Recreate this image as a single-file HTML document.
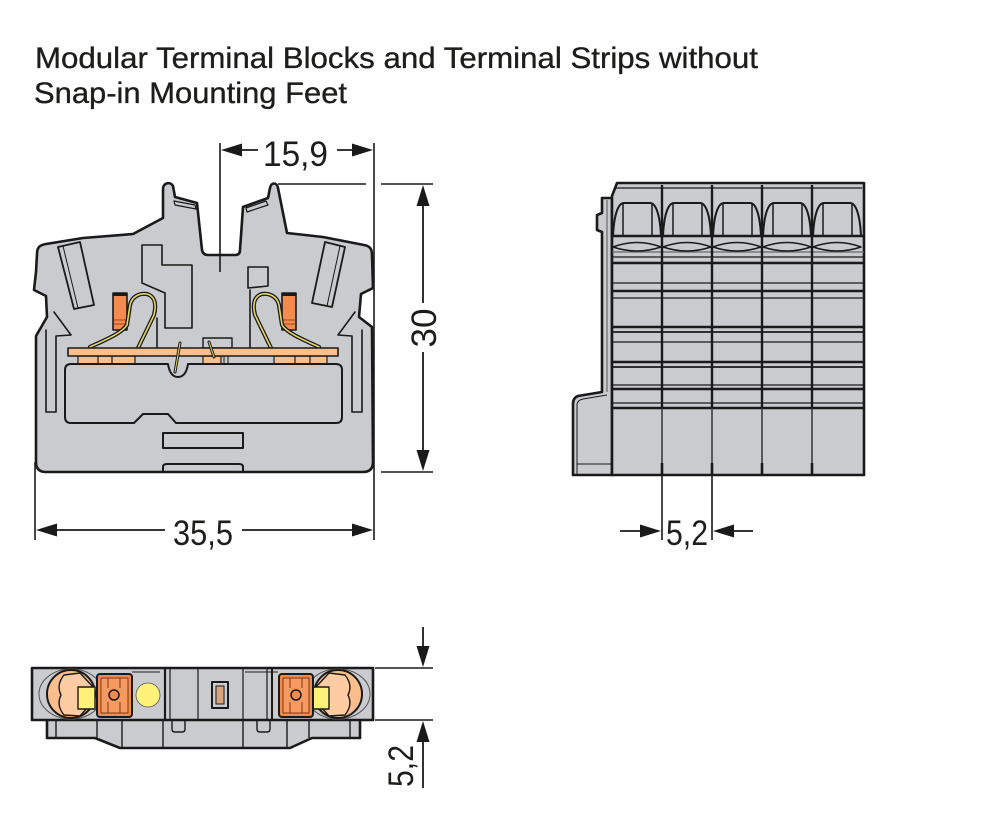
<!DOCTYPE html>
<html>
<head>
<meta charset="utf-8">
<style>
  html,body{margin:0;padding:0;background:#fff;}
  svg{display:block;}
  .t{font-family:"Liberation Sans Narrow","Liberation Sans",sans-serif;fill:#1d1d1b;}
  .tt{stroke:#1d1d1b;stroke-width:0.35;}
</style>
</head>
<body>
<svg width="984" height="818" viewBox="0 0 984 818" xmlns="http://www.w3.org/2000/svg">
  <rect width="984" height="818" fill="#fff"/>

  <!-- Title -->
  <text class="t tt" x="35" y="68" font-size="30" textLength="723" lengthAdjust="spacingAndGlyphs">Modular Terminal Blocks and Terminal Strips without</text>
  <text class="t tt" x="34" y="103" font-size="30" textLength="313" lengthAdjust="spacingAndGlyphs">Snap-in Mounting Feet</text>

  <!-- ================= FRONT VIEW ================= -->
  <g stroke="#1a1a1a" stroke-linejoin="round" stroke-linecap="round">
    <path fill="#CACBCE" stroke-width="2.6" d="M37,254 C37,247 40,245 46,244 L83,238 L133,234 L163,218 L163,189 C163,183 170,181 173,186 L175,197 L197,203 L202,250 Q203,255 208,255 L235,255 Q240,255 240,250 L243,207 L268,198 L270,188 C271,182 277,182 278,188 L287,233 L323,237 L364,245 C370,246 372,249 372,255 L373,288 L361,294 L359,317 L372,327 L373,462 Q373,472 363,472 L46,472 Q36,472 36,462 L36,336 L47,317 L46,296 L34,290 L36,272 Z"/>
    <path fill="none" stroke-width="1.2" d="M174,201 L195,205 L196,209 L175,205 Z"/>
    <path fill="none" stroke-width="1.2" d="M246,208 L266,201 L268,205 L247,212 Z"/>
    <path fill="none" stroke-width="1.8" d="M58,247 L80,242 L94,305 L74,309 Z"/>
    <path fill="none" stroke-width="1" d="M63,246 L78,308"/>
    <path fill="none" stroke-width="1.8" d="M325,242 L345,247 L332,307 L312,303 Z"/>
    <path fill="none" stroke-width="1" d="M340,246 L327,306"/>
    <path fill="none" stroke-width="1.6" d="M142,245 L162,245 L162,265 L192,265 L192,328 L165,328 L165,293 L142,283 Z"/>
    <path fill="none" stroke-width="1.6" d="M248,267 L268,267 L268,286 L248,288 Z"/>
    <path fill="none" stroke-width="1.6" d="M54,312 L71,335 L56,336 L56,412 L46,412 L46,330"/>
    <path fill="none" stroke-width="1.6" d="M355,312 L338,335 L352,336 L352,412 L362,412 L362,330"/>
    <line x1="157" y1="318" x2="157" y2="348" stroke-width="1.6"/>
    <line x1="250" y1="290" x2="250" y2="348" stroke-width="1.6"/>
    <rect x="113" y="293" width="14" height="37" fill="#F58A4F" stroke-width="1.6"/>
    <rect x="113" y="293" width="14" height="3" fill="#1a1a1a" stroke-width="0"/>
    <line x1="114" y1="320" x2="126" y2="320" stroke="#9a4a20" stroke-width="1"/>
    <line x1="114" y1="324" x2="126" y2="324" stroke="#9a4a20" stroke-width="1"/>
    <rect x="282" y="293" width="14" height="37" fill="#F58A4F" stroke-width="1.6"/>
    <rect x="282" y="293" width="14" height="3" fill="#1a1a1a" stroke-width="0"/>
    <line x1="283" y1="320" x2="295" y2="320" stroke="#9a4a20" stroke-width="1"/>
    <line x1="283" y1="324" x2="295" y2="324" stroke="#9a4a20" stroke-width="1"/>
    <path fill="none" stroke-width="4.2" d="M90,347 C105,340 122,333 127,325 L130,305 C132,296 140,293 147,294 C154,296 157,303 154,315 L138,348"/>
    <path fill="none" stroke="#E6D66A" stroke-width="1.6" d="M90,347 C105,340 122,333 127,325 L130,305 C132,296 140,293 147,294 C154,296 157,303 154,315 L138,348"/>
    <path fill="none" stroke-width="4.2" d="M319,347 C304,340 287,333 282,325 L279,305 C277,296 269,293 262,294 C255,296 252,303 255,315 L271,348"/>
    <path fill="none" stroke="#E6D66A" stroke-width="1.6" d="M319,347 C304,340 287,333 282,325 L279,305 C277,296 269,293 262,294 C255,296 252,303 255,315 L271,348"/>
    <rect x="203" y="338" width="29" height="10" fill="none" stroke-width="1.4"/>
    <rect x="78" y="356" width="57" height="8" fill="#FCBF8B" stroke-width="1.2"/>
    <rect x="98" y="356" width="14" height="8" fill="#FCBF8B" stroke-width="1.2"/>
    <rect x="203" y="356" width="18" height="8" fill="#FCBF8B" stroke-width="1.2"/>
    <line x1="224" y1="356" x2="224" y2="364" stroke-width="1"/>
    <line x1="228" y1="356" x2="228" y2="364" stroke-width="1"/>
    <rect x="274" y="356" width="53" height="8" fill="#FCBF8B" stroke-width="1.2"/>
    <rect x="295" y="356" width="15" height="8" fill="#FCBF8B" stroke-width="1.2"/>
    <rect x="68" y="348" width="270" height="8" fill="#FCBF8B" stroke-width="1.6"/>
    <path fill="#CACBCE" stroke-width="2" d="M71,364 L168,364 Q170,377 178,377 Q186,377 188,364 L336,364 Q342,364 342,370 L342,417 Q342,423 336,423 L176,423 L168,414 L143,414 L134,423 L71,423 Q65,423 65,417 L65,370 Q65,364 71,364 Z"/>
    <path fill="none" stroke-width="3" d="M180,343 L175,372"/>
    <path fill="none" stroke="#E6D66A" stroke-width="1" d="M180,343 L175,372"/>
    <path fill="none" stroke-width="3" d="M209,342 L214,357"/>
    <path fill="none" stroke="#E6D66A" stroke-width="1" d="M209,342 L214,357"/>
    <rect x="163" y="433" width="80" height="15" fill="#CACBCE" stroke-width="2"/>
    <path fill="none" stroke-width="2" d="M163,472 L163,467 Q163,464 167,464 L239,464 Q243,464 243,467 L243,472"/>
  </g>

  <!-- front view dimensions -->
  <g stroke="#1a1a1a" fill="none">
    <line x1="220" y1="143" x2="220" y2="272" stroke-width="1.6"/>
    <line x1="374" y1="143" x2="374" y2="540" stroke-width="1.6"/>
    <line x1="35" y1="462" x2="35" y2="540" stroke-width="1.6"/>
    <line x1="240" y1="150" x2="258" y2="150" stroke-width="1.8"/>
    <line x1="337" y1="150" x2="355" y2="150" stroke-width="1.8"/>
    <line x1="278" y1="184" x2="366" y2="184" stroke-width="1.6"/>
    <line x1="381" y1="184" x2="433" y2="184" stroke-width="1.6"/>
    <line x1="381" y1="472" x2="433" y2="472" stroke-width="1.6"/>
    <line x1="423" y1="204" x2="423" y2="303" stroke-width="1.8"/>
    <line x1="423" y1="352" x2="423" y2="452" stroke-width="1.8"/>
    <line x1="55" y1="530" x2="165" y2="530" stroke-width="1.8"/>
    <line x1="242" y1="530" x2="354" y2="530" stroke-width="1.8"/>
  </g>
  <g fill="#1a1a1a">
    <polygon points="221,150 242,143.5 242,156.5"/>
    <polygon points="373,150 352,143.5 352,156.5"/>
    <polygon points="423,185 416.5,206 429.5,206"/>
    <polygon points="423,471 416.5,450 429.5,450"/>
    <polygon points="36,530 57,523.5 57,536.5"/>
    <polygon points="373,530 352,523.5 352,536.5"/>
  </g>
  <text class="t" x="263" y="166" font-size="35" textLength="65" lengthAdjust="spacingAndGlyphs">15,9</text>
  <text class="t" x="173" y="545" font-size="35" textLength="60" lengthAdjust="spacingAndGlyphs">35,5</text>
  <text class="t" font-size="35" text-anchor="middle" transform="translate(436,328) rotate(-90)">30</text>

  <!-- ================= SIDE VIEW ================= -->
  <g stroke="#1a1a1a" stroke-linejoin="round">
    <path fill="#CACBCE" stroke-width="2.6" d="M612,198 L602,198 L602,213 L597,215 L597,230 L602,232 L602,392 L578,396 Q573,398 573,404 L573,475 L612,475 Z"/>
    <line x1="607" y1="200" x2="607" y2="392" stroke="#555" stroke-width="1"/>
    <path fill="none" stroke-width="1" d="M577,475 L577,404 Q578,400 583,399 L607,395"/>
    <line x1="577" y1="464" x2="612" y2="464" stroke-width="1"/>
    <path fill="#CACBCE" stroke-width="2.6" d="M612,475 L612,196 L617,183 L864,183 L864,475 Z"/>
    <line x1="616" y1="188" x2="862" y2="188" stroke-width="1.2"/>
    <g stroke-width="1.3">
      <line x1="612" y1="252" x2="864" y2="252" stroke="#666"/>
      <line x1="612" y1="257" x2="864" y2="257"/>
      <line x1="612" y1="283" x2="864" y2="283"/>
      <line x1="612" y1="298" x2="864" y2="298"/>
      <line x1="612" y1="342" x2="864" y2="342"/>
      <line x1="612" y1="385" x2="864" y2="385"/>
      <line x1="612" y1="403" x2="864" y2="403"/>
    </g>
    <g stroke-width="2.4">
      <line x1="612" y1="236" x2="864" y2="236"/>
      <line x1="612" y1="263" x2="864" y2="263"/>
      <line x1="612" y1="291" x2="864" y2="291"/>
      <line x1="612" y1="327" x2="864" y2="327"/>
      <line x1="612" y1="332" x2="864" y2="332" stroke-width="1.8"/>
      <line x1="612" y1="362" x2="864" y2="362"/>
      <line x1="612" y1="367" x2="864" y2="367" stroke-width="1.8"/>
      <line x1="612" y1="389" x2="864" y2="389"/>
      <line x1="612" y1="408" x2="864" y2="408"/>
    </g>
    <g fill="none" stroke-width="2">
      <path d="M613,236 C614,215 618,203 624,203 L650,203 C656,203 660,215 661,236"/>
      <path d="M663,236 C664,215 668,203 674,203 L700,203 C706,203 710,215 711,236"/>
      <path d="M713,236 C714,215 718,203 724,203 L750,203 C756,203 760,215 761,236"/>
      <path d="M763,236 C764,215 768,203 774,203 L800,203 C806,203 810,215 811,236"/>
      <path d="M813,236 C814,215 818,203 824,203 L850,203 C856,203 860,215 861,236"/>
    </g>
    <g stroke-width="1.5">
      <line x1="623" y1="203" x2="623" y2="236"/><line x1="652" y1="203" x2="652" y2="236"/>
      <line x1="673" y1="203" x2="673" y2="236"/><line x1="702" y1="203" x2="702" y2="236"/>
      <line x1="723" y1="203" x2="723" y2="236"/><line x1="752" y1="203" x2="752" y2="236"/>
      <line x1="773" y1="203" x2="773" y2="236"/><line x1="802" y1="203" x2="802" y2="236"/>
      <line x1="823" y1="203" x2="823" y2="236"/><line x1="852" y1="203" x2="852" y2="236"/>
    </g>
    <g fill="none" stroke-width="1.5">
      <path d="M613,247 Q637,238 661,247 Q637,255 613,247"/>
      <path d="M663,247 Q687,238 711,247 Q687,255 663,247"/>
      <path d="M713,247 Q737,238 761,247 Q737,255 713,247"/>
      <path d="M763,247 Q787,238 811,247 Q787,255 763,247"/>
      <path d="M813,247 Q837,238 861,247 Q837,255 813,247"/>
    </g>
    <g stroke-width="2.4">
      <line x1="662" y1="185" x2="662" y2="408"/>
      <line x1="712" y1="185" x2="712" y2="408"/>
      <line x1="762" y1="185" x2="762" y2="408"/>
      <line x1="812" y1="185" x2="812" y2="408"/>
    </g>
    <g stroke-width="1.5" stroke="#333">
      <line x1="662" y1="408" x2="662" y2="464"/>
      <line x1="712" y1="408" x2="712" y2="464"/>
      <line x1="762" y1="408" x2="762" y2="464"/>
      <line x1="812" y1="408" x2="812" y2="464"/>
    </g>
    <g stroke-width="2.6">
      <line x1="662" y1="463" x2="662" y2="475"/>
      <line x1="712" y1="463" x2="712" y2="475"/>
      <line x1="762" y1="463" x2="762" y2="475"/>
      <line x1="812" y1="463" x2="812" y2="475"/>
    </g>
  </g>
  <g stroke="#1a1a1a">
    <line x1="662" y1="476" x2="662" y2="540" stroke-width="1.6"/>
    <line x1="712" y1="476" x2="712" y2="540" stroke-width="1.6"/>
    <line x1="620" y1="531" x2="643" y2="531" stroke-width="1.8"/>
    <line x1="731" y1="531" x2="753" y2="531" stroke-width="1.8"/>
  </g>
  <g fill="#1a1a1a">
    <polygon points="661,531 640,524.5 640,537.5"/>
    <polygon points="713,531 734,524.5 734,537.5"/>
  </g>
  <text class="t" x="666" y="545" font-size="35" textLength="42" lengthAdjust="spacingAndGlyphs">5,2</text>

  <!-- ================= BOTTOM VIEW ================= -->
  <g stroke="#1a1a1a" stroke-linejoin="round">
    <path fill="#CACBCE" stroke-width="2.6" d="M47,718 L47,738 L95,738 L120,748 L290,748 L312,738 L360,738 L360,718"/>
    <g stroke-width="1.4">
      <line x1="56" y1="720" x2="56" y2="738"/>
      <line x1="97" y1="720" x2="97" y2="738"/>
      <line x1="122" y1="720" x2="122" y2="748"/>
      <line x1="163" y1="720" x2="163" y2="748"/>
      <line x1="243" y1="720" x2="243" y2="748"/>
      <line x1="287" y1="720" x2="287" y2="748"/>
      <line x1="309" y1="720" x2="309" y2="738"/>
      <line x1="350" y1="720" x2="350" y2="738"/>
      <path fill="none" d="M172,720 L172,729 Q172,732 175,732 L182,732 Q185,732 185,729 L185,720"/>
      <path fill="none" d="M257,720 L257,729 Q257,732 260,732 L267,732 Q270,732 270,729 L270,720"/>
    </g>
    <rect x="32" y="668" width="341" height="52" fill="#CACBCE" stroke-width="2.6"/>
    <g stroke-width="1.2" fill="none">
      <path d="M132,672 L160,672" stroke="#444"/>
      <path d="M245,672 L278,672" stroke="#444"/>
      <line x1="170" y1="669" x2="170" y2="719"/>
      <line x1="198" y1="669" x2="198" y2="719"/>
      <line x1="243" y1="669" x2="243" y2="719"/>
      <line x1="267" y1="669" x2="267" y2="719"/>
    </g>
    <line x1="165" y1="669" x2="165" y2="719" stroke-width="2.2"/>
    <line x1="272" y1="669" x2="272" y2="719" stroke-width="2"/>
    <ellipse cx="71" cy="694" rx="32" ry="25" fill="none" stroke="#555" stroke-width="1"/>
    <circle cx="71" cy="694" r="24" fill="#FBBE8C" stroke-width="2"/>
    <path fill="#FDCCA2" stroke-width="1.4" d="M64,675 Q56,685 61,695 Q56,705 64,715 L80,716 L94,700 L94,688 L80,673 Z"/>
    <rect x="78" y="687" width="17" height="22" fill="#FFF27A" stroke-width="1.4"/>
    <rect x="97" y="674" width="35" height="43" rx="3" fill="#F38A4E" stroke-width="2"/>
    <rect x="101" y="678" width="27" height="35" fill="#F79A62" stroke="#7a3a14" stroke-width="1"/>
    <line x1="108" y1="678" x2="108" y2="688" stroke="#7a3a14" stroke-width="1"/>
    <line x1="120" y1="678" x2="120" y2="688" stroke="#7a3a14" stroke-width="1"/>
    <line x1="108" y1="702" x2="108" y2="713" stroke="#7a3a14" stroke-width="1"/>
    <line x1="120" y1="702" x2="120" y2="713" stroke="#7a3a14" stroke-width="1"/>
    <circle cx="114" cy="695" r="5" fill="#F38A4E" stroke-width="1.5"/>
    <circle cx="148" cy="695" r="12" fill="#FFF27A" stroke="#555" stroke-width="0.8"/>
    <rect x="212" y="682" width="16" height="26" fill="#CACBCE" stroke-width="2"/>
    <rect x="216" y="686" width="8" height="18" fill="#D9A478" stroke-width="1"/>
    <ellipse cx="338" cy="694" rx="32" ry="25" fill="none" stroke="#555" stroke-width="1"/>
    <circle cx="338" cy="694" r="24" fill="#FBBE8C" stroke-width="2"/>
    <path fill="#FDCCA2" stroke-width="1.4" d="M345,675 Q353,685 348,695 Q353,705 345,715 L329,716 L315,700 L315,688 L329,673 Z"/>
    <rect x="312" y="687" width="17" height="22" fill="#FFF27A" stroke-width="1.4"/>
    <rect x="279" y="674" width="34" height="43" rx="3" fill="#F38A4E" stroke-width="2"/>
    <rect x="283" y="678" width="26" height="35" fill="#F79A62" stroke="#7a3a14" stroke-width="1"/>
    <line x1="290" y1="678" x2="290" y2="688" stroke="#7a3a14" stroke-width="1"/>
    <line x1="302" y1="678" x2="302" y2="688" stroke="#7a3a14" stroke-width="1"/>
    <line x1="290" y1="702" x2="290" y2="713" stroke="#7a3a14" stroke-width="1"/>
    <line x1="302" y1="702" x2="302" y2="713" stroke="#7a3a14" stroke-width="1"/>
    <circle cx="296" cy="695" r="5" fill="#F38A4E" stroke-width="1.5"/>
  </g>
  <g stroke="#1a1a1a">
    <line x1="375" y1="668" x2="433" y2="668" stroke-width="1.6"/>
    <line x1="375" y1="720" x2="433" y2="720" stroke-width="1.6"/>
    <line x1="423" y1="627" x2="423" y2="649" stroke-width="1.8"/>
    <line x1="423" y1="740" x2="423" y2="788" stroke-width="1.8"/>
  </g>
  <g fill="#1a1a1a">
    <polygon points="423,667 416.5,646 429.5,646"/>
    <polygon points="423,721 416.5,742 429.5,742"/>
  </g>
  <text class="t" font-size="35" text-anchor="middle" textLength="42" lengthAdjust="spacingAndGlyphs" transform="translate(413,766) rotate(-90)">5,2</text>
</svg>
</body>
</html>
